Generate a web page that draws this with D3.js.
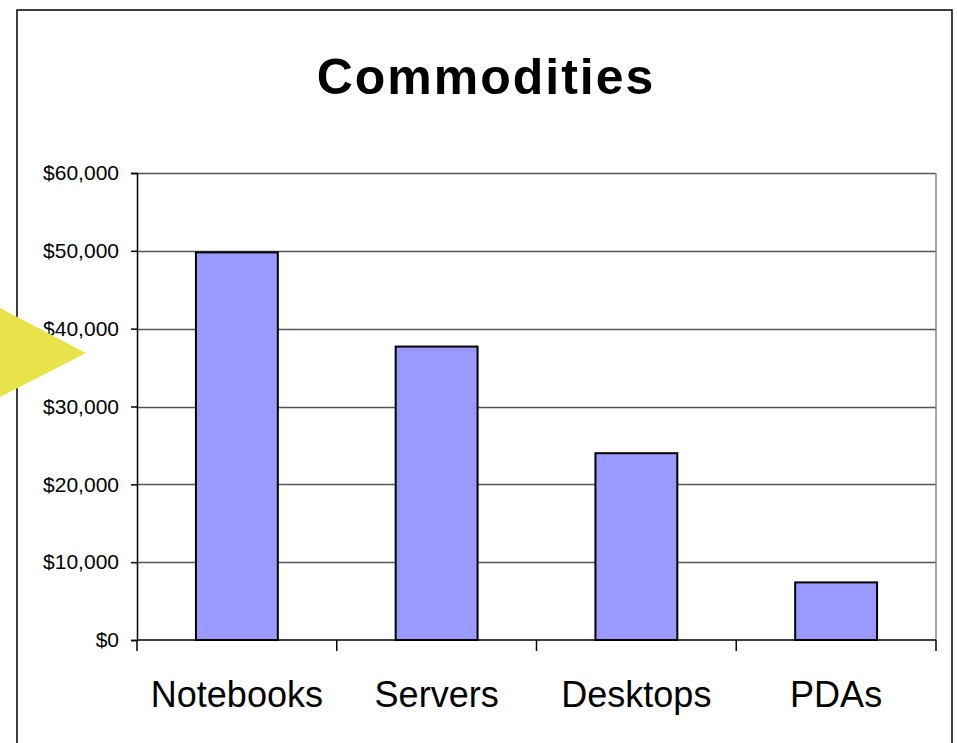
<!DOCTYPE html>
<html>
<head>
<meta charset="utf-8">
<script src="https://cdnjs.cloudflare.com/ajax/libs/d3/7.8.5/d3.min.js"></script>
<style>
  html, body { margin: 0; padding: 0; background: #fff; }
  svg { display: block; font-family: "Liberation Sans", Arial, sans-serif; }
</style>
</head>
<body>
<div id="chart"></div>
<script>
// data
var categories = ["Notebooks", "Servers", "Desktops", "PDAs"];
var sales = [49800, 37700, 24000, 7400];
var yTicks = [0, 10000, 20000, 30000, 40000, 50000, 60000];

var width = 957, height = 743;
var plot = {left: 137, top: 173, right: 936, bottom: 640};

var svg = d3.select("#chart")
    .append("svg")
    .attr("width", width)
    .attr("height", height);

// outer chart frame (runs off the bottom of the page)
svg.append("rect")
    .attr("x", 17).attr("y", 10)
    .attr("width", 935).attr("height", 760)
    .attr("fill", "#fff")
    .attr("stroke", "#000")
    .attr("stroke-width", 1.5);

var x = d3.scaleBand()
    .domain(categories)
    .range([plot.left, plot.right])
    .paddingInner(0.59)
    .paddingOuter(0.295);

var y = d3.scaleLinear()
    .domain([0, 60000])
    .range([plot.bottom, plot.top]);

// title
svg.append("text")
    .attr("x", 486)
    .attr("y", 94)
    .attr("text-anchor", "middle")
    .attr("font-weight", "bold")
    .attr("font-size", 50)
    .attr("letter-spacing", 2)
    .text("Commodities");

// gridlines
svg.append("g")
    .selectAll("line")
    .data(yTicks.filter(function(d) { return d > 0; }))
    .enter().append("line")
    .attr("x1", plot.left).attr("x2", plot.right)
    .attr("y1", function(d) { return Math.round(y(d)) + 0.5; })
    .attr("y2", function(d) { return Math.round(y(d)) + 0.5; })
    .attr("stroke", "#555")
    .attr("stroke-width", 1.5);

// plot area border right side
svg.append("line")
    .attr("x1", plot.right).attr("x2", plot.right)
    .attr("y1", plot.top).attr("y2", plot.bottom)
    .attr("stroke", "#8a8a8a")
    .attr("stroke-width", 1.5);

// bars
svg.append("g")
    .selectAll("rect")
    .data(sales)
    .enter().append("rect")
    .attr("x", function(d, i) { return x(categories[i]); })
    .attr("y", function(d) { return y(d); })
    .attr("width", x.bandwidth())
    .attr("height", function(d) { return y(0) - y(d); })
    .attr("fill", "#9999ff")
    .attr("stroke", "#000")
    .attr("stroke-width", 2);

// y axis
var yAxis = d3.axisLeft(y)
    .tickValues(yTicks)
    .tickSize(6)
    .tickPadding(12)
    .tickFormat(function(d) { return "$" + d3.format(",")(d); });

var gy = svg.append("g")
    .attr("transform", "translate(" + plot.left + ",0)")
    .call(yAxis);
gy.select(".domain").attr("stroke", "#000").attr("stroke-width", 1.5);
gy.selectAll(".tick line").attr("stroke", "#000").attr("stroke-width", 1.5);
gy.selectAll(".tick text")
    .attr("font-size", 21)
    .attr("font-family", "Liberation Sans, Arial, sans-serif")
    .attr("fill", "#000");

// x axis with ticks on category boundaries
var bounds = d3.range(categories.length + 1).map(function(i) {
    return plot.left + i * (plot.right - plot.left) / categories.length;
});
var gx = svg.append("g");
gx.append("line")
    .attr("x1", plot.left).attr("x2", plot.right)
    .attr("y1", plot.bottom).attr("y2", plot.bottom)
    .attr("stroke", "#000").attr("stroke-width", 1.5);
gx.selectAll(".btick")
    .data(bounds)
    .enter().append("line")
    .attr("class", "btick")
    .attr("x1", function(d) { return d; })
    .attr("x2", function(d) { return d; })
    .attr("y1", plot.bottom).attr("y2", plot.bottom + 11)
    .attr("stroke", "#000").attr("stroke-width", 1.5);
gx.selectAll(".cat")
    .data(categories)
    .enter().append("text")
    .attr("class", "cat")
    .attr("x", function(d) { return x(d) + x.bandwidth() / 2; })
    .attr("y", 707)
    .attr("text-anchor", "middle")
    .attr("font-size", 36)
    .text(function(d) { return d; });

// yellow pointer triangle on left edge
svg.append("path")
    .attr("d", "M0,308L86,353L0,397Z")
    .attr("fill", "#e8e24b");
</script>
</body>
</html>
